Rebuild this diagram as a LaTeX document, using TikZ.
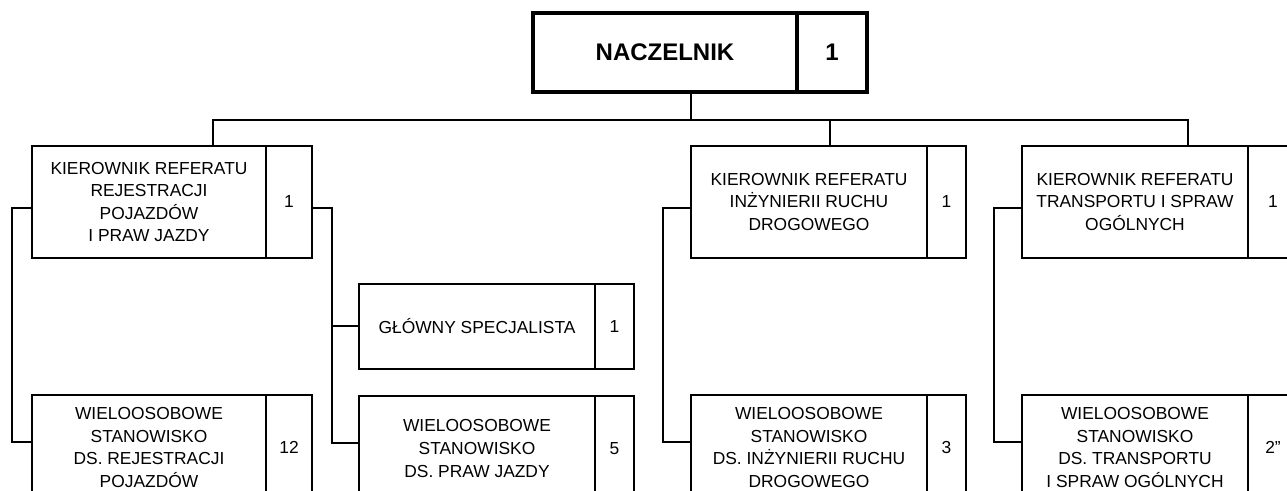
\documentclass[tikz,border=0pt]{standalone}
\usepackage{fontspec}
\setmainfont{Liberation Sans}
\usetikzlibrary{positioning}

\begin{document}
\begin{tikzpicture}[x=0.5pt, y=-0.5pt,
  unit/.style={draw, line width=1pt, outer sep=0pt, inner sep=1pt, align=center,
               anchor=north west, font=\fontsize{8.7}{11.3}\selectfont},
  count/.style={draw, line width=1pt, outer sep=0pt, inner sep=0pt,
               font=\fontsize{8.7}{11.3}\selectfont},
  head/.style={draw, line width=1.75pt, outer sep=0pt, minimum height=39.5pt,
               font=\fontsize{12}{14}\selectfont\bfseries},
  toprow/.style={minimum height=56pt},
  midrow/.style={minimum height=42.5pt},
  lowrow/.style={minimum height=52.5pt},
  link/.style={line width=1pt}]
  \useasboundingbox (0,0) rectangle (1287,491);
  \clip (0,0) rectangle (1287,491);

  % head of the unit
  \node[head, anchor=north west, minimum width=132pt] (nacz) at (533,13) {NACZELNIK};
  \node[head, minimum width=35pt, right=0pt of nacz] (naczn) {1};

  % referat heads
  \node[unit, toprow, minimum width=117pt] (kr1) at (32,146)
    {KIEROWNIK REFERATU\\REJESTRACJI\\POJAZDÓW\\I PRAW JAZDY};
  \node[count, toprow, minimum width=23pt, right=0pt of kr1] (kr1n) {1};
  \node[unit, toprow, minimum width=118pt] (kr3) at (691,146)
    {KIEROWNIK REFERATU\\INŻYNIERII RUCHU\\DROGOWEGO};
  \node[count, toprow, minimum width=19.5pt, right=0pt of kr3] (kr3n) {1};
  \node[unit, toprow, minimum width=113pt] (kr4) at (1022,146)
    {KIEROWNIK REFERATU\\TRANSPORTU I SPRAW\\OGÓLNYCH};
  \node[count, toprow, minimum width=25pt, right=0pt of kr4] (kr4n) {1};

  % single post
  \node[unit, midrow, minimum width=118pt] (gs) at (359,284) {GŁÓWNY SPECJALISTA};
  \node[count, midrow, minimum width=19.5pt, right=0pt of gs] (gsn) {1};

  % posts
  \node[unit, lowrow, minimum width=117pt] (ws1) at (32,395)
    {WIELOOSOBOWE\\STANOWISKO\\DS. REJESTRACJI\\POJAZDÓW};
  \node[count, lowrow, minimum width=23pt, right=0pt of ws1] (ws1n) {12};
  \node[unit, lowrow, minimum width=118pt] (ws2) at (359,396)
    {WIELOOSOBOWE\\STANOWISKO\\DS. PRAW JAZDY};
  \node[count, lowrow, minimum width=19.5pt, right=0pt of ws2] (ws2n) {5};
  \node[unit, lowrow, minimum width=118pt] (ws3) at (691,395)
    {WIELOOSOBOWE\\STANOWISKO\\DS. INŻYNIERII RUCHU\\DROGOWEGO};
  \node[count, lowrow, minimum width=19.5pt, right=0pt of ws3] (ws3n) {3};
  \node[unit, lowrow, minimum width=113pt] (ws4) at (1022,395)
    {WIELOOSOBOWE\\STANOWISKO\\DS. TRANSPORTU\\I SPRAW OGÓLNYCH};
  \node[count, lowrow, minimum width=25pt, right=0pt of ws4] (ws4n) {2”};

  % bus under the head
  \coordinate (bus0) at (691,120);
  \coordinate (bus1) at (213,120);
  \coordinate (bus3) at (830,120);
  \coordinate (bus4) at (1188,120);
  \draw[link] (nacz.south -| bus0) -- (bus0);
  \draw[link] (kr1.north -| bus1) -- (bus1) -- (bus4) -- (kr4.north -| bus4);
  \draw[link] (bus3) -- (kr3.north -| bus3);

  % side rails
  \coordinate (rail1) at (12,300);
  \coordinate (rail2) at (332,300);
  \coordinate (rail3) at (663,300);
  \coordinate (rail4) at (994,300);
  \draw[link] ([yshift=-3pt]kr1.west) -| (rail1) |- ([yshift=2.5pt]ws1.west);
  \draw[link] ([yshift=-3pt]kr1n.east) -| (rail2) |- ([yshift=2.5pt]ws2.west);
  \draw[link] (rail2) |- (gs.west);
  \draw[link] ([yshift=-3pt]kr3.west) -| (rail3) |- ([yshift=2.5pt]ws3.west);
  \draw[link] ([yshift=-3pt]kr4.west) -| (rail4) |- ([yshift=2.5pt]ws4.west);
\end{tikzpicture}
\end{document}
